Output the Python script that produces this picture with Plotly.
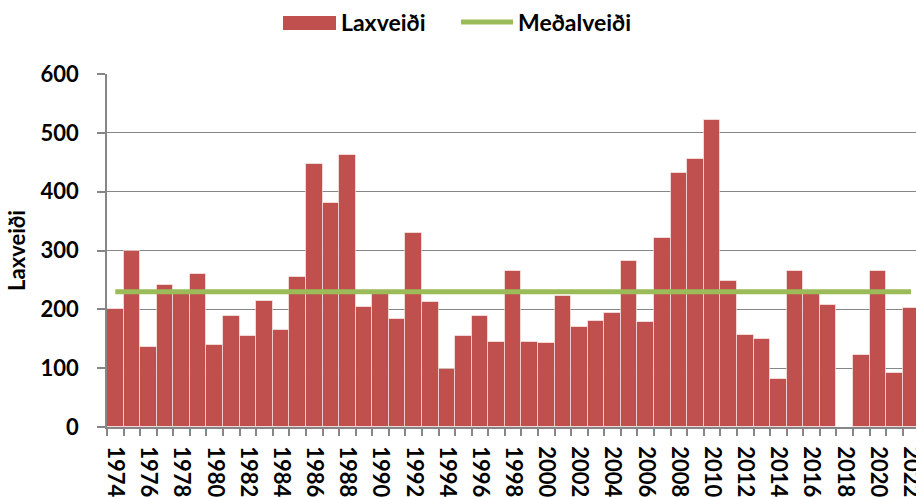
import plotly.graph_objects as go

years = list(range(1974, 2023))
catch = [201, 299, 136, 241, 232, 260, 140, 189, 154, 215, 165, 255,
         447, 380, 463, 204, 228, 183, 330, 212, 98, 155, 188, 145,
         265, 145, 142, 222, 170, 181, 194, 282, 179, 321, 431, 455,
         522, 249, 156, 149, 81, 265, 230, 208, 0, 122, 266, 91, 203]
mean_catch = 230
tick_years = list(range(1974, 2023, 2))

BAR = "#C0504D"
GREEN = "#9BBB59"
GRID = "#868686"
FONT = "Lato"

W, H = 916, 497
L, R, T, B = 107, 0, 74, 70
pw, ph = W - L - R, H - T - B

def px(x):
    return (x - L) / pw

def py(y):
    return (H - B - y) / ph

fig = go.Figure()
fig.add_trace(go.Bar(
    x=years, y=catch, name="Laxveiði",
    marker=dict(color=BAR, line=dict(color="rgba(255,255,255,0.55)", width=1)),
    showlegend=False,
))
fig.add_trace(go.Scatter(
    x=[years[0], years[-1]], y=[mean_catch, mean_catch], name="Meðalveiði",
    mode="lines", line=dict(color=GREEN, width=5), showlegend=False,
))

# custom legend
shapes = [
    dict(type="rect", xref="paper", yref="paper", x0=px(283), x1=px(336),
         y0=py(30), y1=py(16), fillcolor=BAR, line=dict(width=0)),
    dict(type="line", xref="paper", yref="paper", x0=px(461), x1=px(513),
         y0=py(22), y1=py(22), line=dict(color=GREEN, width=5)),
]
annotations = [
    dict(text="<b>Laxveiði</b>", xref="paper", yref="paper", x=px(339), y=py(22),
         xanchor="left", yanchor="middle", showarrow=False,
         font=dict(family=FONT, size=23, color="black")),
    dict(text="<b>Meðalveiði</b>", xref="paper", yref="paper", x=px(516), y=py(22),
         xanchor="left", yanchor="middle", showarrow=False,
         font=dict(family=FONT, size=23, color="black")),
]

fig.update_layout(
    width=W, height=H,
    margin=dict(l=L, r=R, t=T, b=B, autoexpand=False),
    paper_bgcolor="white", plot_bgcolor="white",
    bargap=0,
    shapes=shapes, annotations=annotations,
    font=dict(family=FONT, size=22, color="black"),
)
fig.update_xaxes(
    automargin=False,
    range=[1973.5, 2022.3],
    tickmode="array", tickvals=tick_years,
    ticktext=[f"<b>{y}</b>" for y in tick_years],
    tickangle=90, ticks="", ticklen=0,
    ticklabeloverflow="allow",
    minor=dict(ticks="outside", tick0=1973.5, dtick=1, ticklen=7,
               tickcolor=GRID, tickwidth=1.5, showgrid=False),
    showline=True, linecolor=GRID, linewidth=1.5,
    showgrid=False, zeroline=False,
    ticklabelstandoff=13,
    tickfont=dict(family=FONT, size=22, color="black"),
)
fig.update_yaxes(
    automargin=False,
    range=[0, 600], dtick=100,
    tickprefix="<b>", ticksuffix="</b>",
    ticks="outside", ticklen=8, tickcolor=GRID, tickwidth=1.5,
    showline=True, linecolor=GRID, linewidth=1.5,
    showgrid=True, gridcolor=GRID, gridwidth=1.3,
    zeroline=False,
    ticklabelstandoff=14,
    tickfont=dict(family=FONT, size=22, color="black"),
    title=dict(text="<b>Laxveiði</b>", standoff=9,
               font=dict(family=FONT, size=22, color="black")),
)

fig.write_html(
    "out.html",
    config={"displayModeBar": False},
    post_script="document.body.style.margin='0';document.body.style.overflow='hidden';",
)
